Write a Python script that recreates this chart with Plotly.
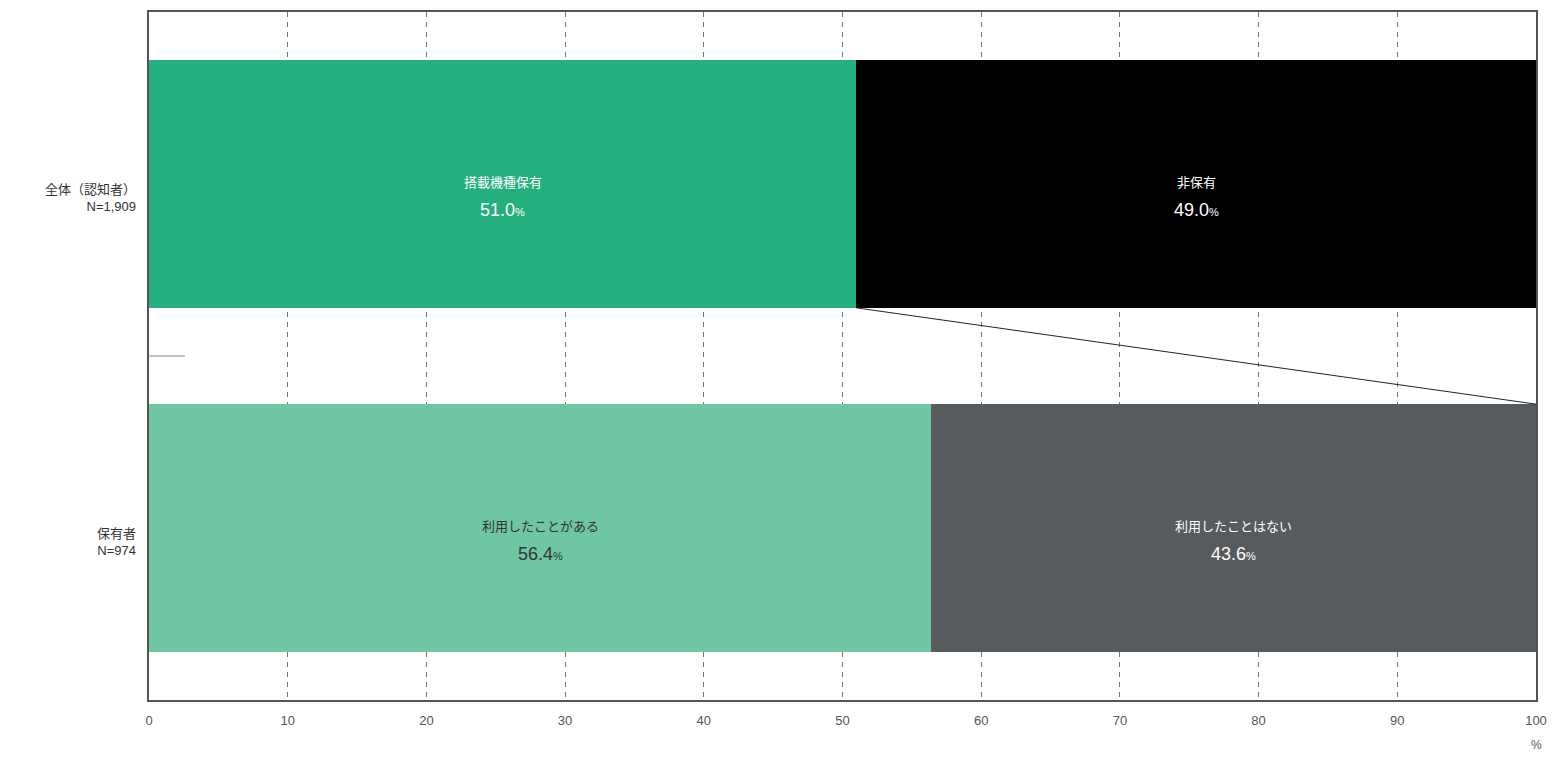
import plotly.graph_objects as go

groups = ["全体（認知者）<br>N=1,909", "保有者<br>N=974"]
first_labels = ["搭載機種保有", "利用したことがある"]
first_values = [51.0, 56.4]
second_labels = ["非保有", "利用したことはない"]
second_values = [49.0, 43.6]
x_ticks = [0, 10, 20, 30, 40, 50, 60, 70, 80, 90, 100]

first_colors = ["#23B07E", "#6FC6A2"]
second_colors = ["#000000", "#575B5E"]
first_text_colors = ["#FFFFFF", "#333333"]
second_text_colors = ["#FFFFFF", "#FFFFFF"]

FONT = "Liberation Sans, Noto Sans CJK JP"
y_pos = [0, 1]
bar_w = 0.72

fig = go.Figure()
fig.add_trace(go.Bar(y=y_pos, x=first_values, orientation="h", width=bar_w,
                     marker=dict(color=first_colors, line=dict(width=0)),
                     hoverinfo="skip", showlegend=False))
fig.add_trace(go.Bar(y=y_pos, x=second_values, orientation="h", width=bar_w,
                     marker=dict(color=second_colors, line=dict(width=0)),
                     hoverinfo="skip", showlegend=False))

annotations = []
for i in range(2):
    for lab, val, start, col in [
        (first_labels[i], first_values[i], 0, first_text_colors[i]),
        (second_labels[i], second_values[i], first_values[i], second_text_colors[i]),
    ]:
        annotations.append(dict(
            x=start + val / 2, y=y_pos[i] - 0.005, xref="x", yref="y",
            text=lab, showarrow=False,
            font=dict(family=FONT, size=13, color=col)))
        annotations.append(dict(
            x=start + val / 2, y=y_pos[i] + 0.075, xref="x", yref="y",
            text=f"<span style='font-size:18px'>{val:.1f}</span><span style='font-size:11px'>%</span>",
            showarrow=False, font=dict(family=FONT, color=col)))
    annotations.append(dict(
        x=-0.008, y=y_pos[i] + 0.04, xref="paper", yref="y", xanchor="right",
        text=groups[i], showarrow=False, align="right",
        font=dict(family=FONT, size=13, color="#333333")))

annotations.append(dict(x=100, y=-0.052, xref="x", yref="paper", text="%",
                        showarrow=False, font=dict(family=FONT, size=12, color="#555555"),
                        yanchor="top"))

shapes = [
    dict(type="line", xref="x", yref="y", x0=first_values[0], y0=y_pos[0] + bar_w / 2,
         x1=100, y1=y_pos[1] - bar_w / 2, line=dict(color="#222222", width=1)),
    dict(type="line", xref="x", yref="y", x0=0, y0=0.5, x1=2.6, y1=0.5,
         line=dict(color="#888888", width=1)),
]

fig.update_layout(
    barmode="stack",
    width=1565, height=757,
    margin=dict(l=149, r=29, t=10, b=57),
    paper_bgcolor="white", plot_bgcolor="white",
    annotations=annotations, shapes=shapes,
    xaxis=dict(range=[0, 100], tickvals=x_ticks, ticktext=[str(t) for t in x_ticks],
               showgrid=True, gridcolor="#777777", griddash="5px,5px", gridwidth=1,
               showline=True, linecolor="#555555", linewidth=1.5, mirror=True,
               ticks="", zeroline=False, ticklabelstandoff=8,
               tickfont=dict(family=FONT, size=13, color="#555555")),
    yaxis=dict(range=[1.5, -0.5], showticklabels=False, showgrid=False,
               showline=True, linecolor="#555555", linewidth=1.5, mirror=True,
               zeroline=False, ticks=""),
)

fig.write_html("out.html", config={"displayModeBar": False},
               post_script="document.body.style.margin='0';document.body.style.overflow='hidden';")
